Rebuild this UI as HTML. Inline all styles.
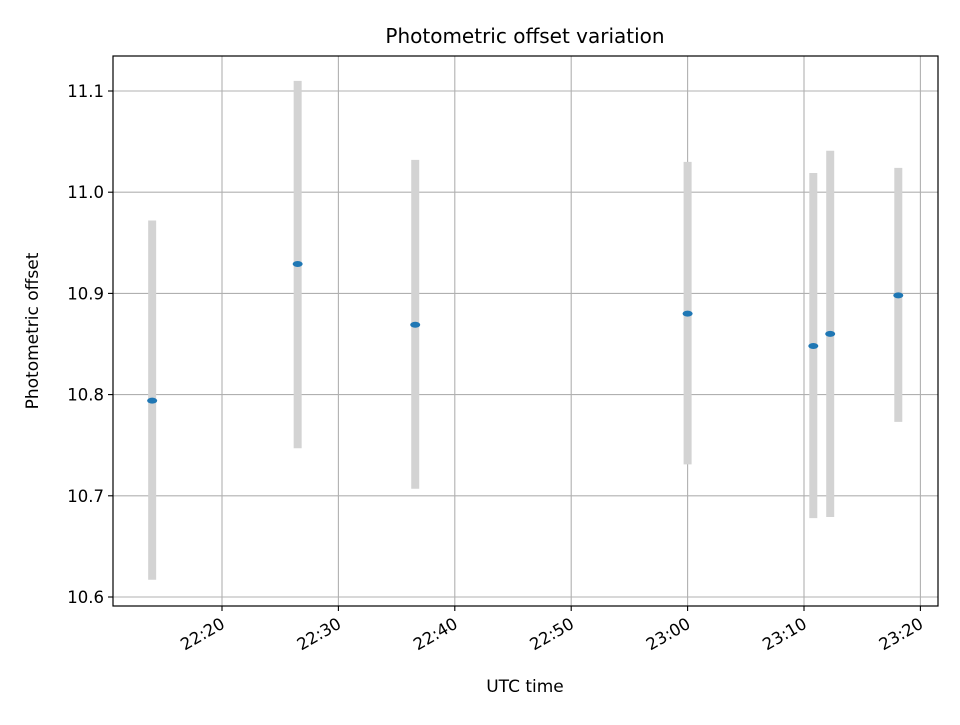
<!DOCTYPE html>
<html><head><meta charset="utf-8"><style>
html,body{margin:0;padding:0;background:#fff;}
svg text{font-family:"DejaVu Sans","Liberation Sans",sans-serif;fill:#000;}
</style></head><body>
<svg id="chart" width="960" height="720" viewBox="0 0 960 720" xmlns="http://www.w3.org/2000/svg">
<rect width="960" height="720" fill="#fff"/>
<g id="grid"></g>
<g id="marks"></g>
<rect x="113" y="56" width="825" height="550" fill="none" stroke="#000" stroke-width="1.2"/>
<g id="axes"></g>
<text x="525" y="43" font-size="20" text-anchor="middle">Photometric offset variation</text>
<text x="525" y="692" font-size="17" text-anchor="middle">UTC time</text>
<text x="38" y="331" font-size="17" text-anchor="middle" transform="rotate(-90 38 331)">Photometric offset</text>
</svg>
<script>
// minutes since 22:00 UTC
const times = [14.0, 26.5, 36.6, 60.0, 70.8, 72.25, 78.1];
const offsets = [10.794, 10.929, 10.869, 10.880, 10.848, 10.860, 10.898];
const errLow = [0.177, 0.182, 0.162, 0.149, 0.170, 0.181, 0.125];
const errHigh = [0.178, 0.181, 0.163, 0.150, 0.171, 0.181, 0.126];
const xTickValues = [20, 30, 40, 50, 60, 70, 80];
const xTickLabels = ["22:20","22:30","22:40","22:50","23:00","23:10","23:20"];
const yTickValues = [10.6, 10.7, 10.8, 10.9, 11.0, 11.1];
const yTickLabels = ["10.6","10.7","10.8","10.9","11.0","11.1"];

const NS = "http://www.w3.org/2000/svg";
const X = m => 222 + (m - 20) * 11.64;
const Y = v => 597 - (v - 10.6) * 1012;
function mk(tag, attrs, parent){const e=document.createElementNS(NS,tag);for(const k in attrs)e.setAttribute(k,attrs[k]);parent.appendChild(e);return e;}
const grid=document.getElementById('grid'), marks=document.getElementById('marks'), axes=document.getElementById('axes');

xTickValues.forEach((v,i)=>{
  const x=X(v);
  const g=mk('line',{x1:x,x2:x,y1:56,y2:606,stroke:'#b0b0b0','stroke-width':1.1},grid);
  
  
  const t=mk('line',{x1:x,x2:x,y1:606,y2:611,stroke:'#000','stroke-width':1.1},axes);
  
  
  const lb=mk('text',{x:x+4,y:627,'font-size':16.5,'text-anchor':'end',transform:`rotate(-30 ${x+4} 627)`},axes);
  lb.textContent=xTickLabels[i];
  
  
});
yTickValues.forEach((v,i)=>{
  const y=Y(v);
  const g=mk('line',{x1:113,x2:938,y1:y,y2:y,stroke:'#b0b0b0','stroke-width':1.1},grid);
  
  
  const t=mk('line',{x1:108,x2:113,y1:y,y2:y,stroke:'#000','stroke-width':1.1},axes);
  
  
  const lb=mk('text',{x:104,y:y+6,'font-size':16.5,'text-anchor':'end'},axes);
  lb.textContent=yTickLabels[i];
  
  
});
times.forEach((m,i)=>{
  const x=X(m);
  const e=mk('line',{x1:x,x2:x,y1:Y(offsets[i]+errHigh[i]),y2:Y(offsets[i]-errLow[i]),stroke:'#d3d3d3','stroke-width':8},marks);
  
  
});
times.forEach((m,i)=>{
  const p=mk('ellipse',{cx:X(m),cy:Y(offsets[i]),rx:5,ry:3,fill:'#1f77b4'},marks);
  
  
});
</script>
</body></html>
